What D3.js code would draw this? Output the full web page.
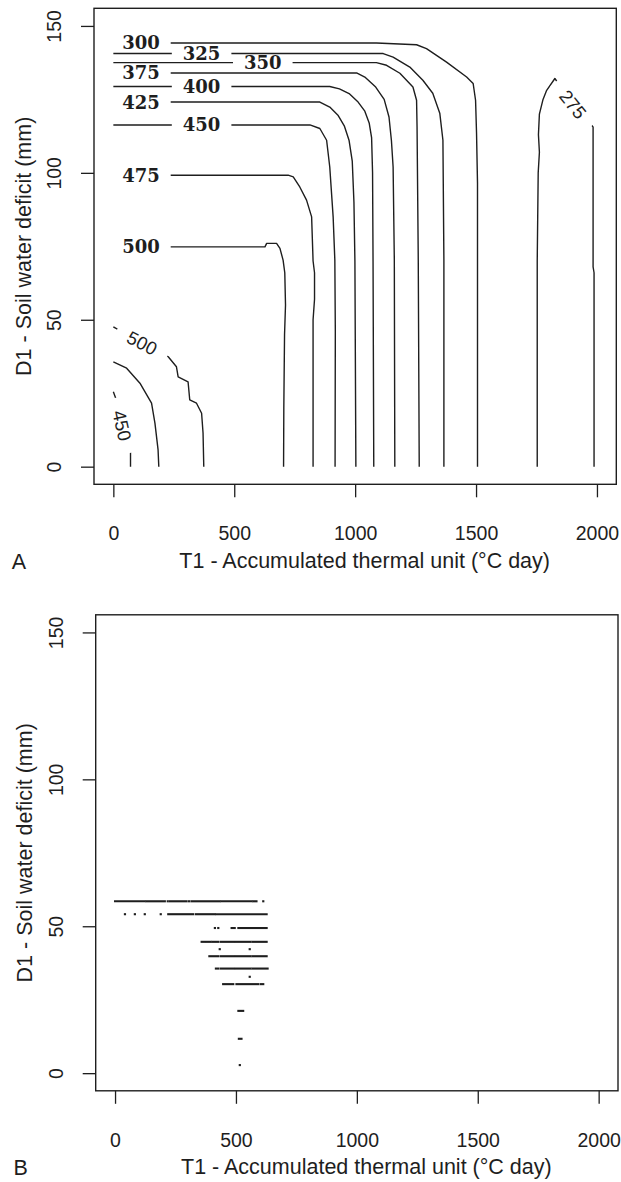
<!DOCTYPE html>
<html><head><meta charset="utf-8">
<script src="https://cdn.jsdelivr.net/npm/d3@7"></script>
<style>body{margin:0;background:#fff}svg{display:block}</style>
</head><body>
<svg id="chart" width="621" height="1182"></svg>
<script>
// ---------- axes ----------
const xTicks = [0, 500, 1000, 1500, 2000];
const yTicks = [0, 50, 100, 150];
const xDomain = [-80, 2080];
const yDomain = [-6, 156];
const xTitle = "T1 - Accumulated thermal unit (°C day)";
const yTitle = "D1 - Soil water deficit (mm)";
const panelNames = ["A", "B"];

// ---------- panel A: contour lines [T1, D1] ----------
const c300 = [[0,144.2],[114,144.2],[1088,144.2],[1254,143.6],[1295,142.3],[1378,137.7],[1461,132.6],[1488,130.4],[1498,124.7],[1502,113.5],[1506,96.5],[1506,70.3],[1506,0]];
const c325 = [[0,140.6],[365,140.6],[1116,140.6],[1157,139.4],[1226,136.0],[1280,131.5],[1321,127.1],[1350,120.3],[1363,111.1],[1367,70.3],[1367,0]];
const c350 = [[0,137.5],[618,137.5],[1088,137.5],[1130,136.6],[1185,133.9],[1239,129.2],[1254,124.7],[1256,115.6],[1261,70.3],[1265,0]];
const c375 = [[0,134.0],[114,134.0],[1006,134.0],[1040,132.6],[1085,129.2],[1120,125],[1140,119],[1150,111],[1157,102],[1162,70.3],[1164,0]];
const c400 = [[0,129.4],[365,129.4],[895,129.4],[935,128.6],[975,127],[1010,124.3],[1040,121],[1058,117],[1068,112],[1072,100],[1074,70],[1077,0]];
const c425 = [[0,124.1],[114,124.1],[854,124.1],[895,122.4],[930,119.5],[955,116],[975,111],[988,104],[995,90],[999,70],[1003,0]];
const c450 = [[0,116.3],[365,116.3],[813,116.3],[854,115.1],[882,111.1],[895,102],[909,85],[916,70.3],[918,46],[917,0]];
const c475 = [[0,99.2],[114,99.2],[723,99.2],[744,98.6],[771,95.2],[799,90.7],[820,85],[826,70],[832,66],[832,57],[826,50],[826,0]];
const c500 = [[0,74.8],[114,74.8],[627,74.8],[634,76],[675,76],[689,74.3],[702,70.3],[709,66],[712,55],[708,45],[705,20],[704,0]];
const c500low = [[0,47.6],[48,45.4],[119,42.1],[192,39.3],[227,37.4],[261,34],[268,30.6],[309,28.9],[316,22.7],[344,21.6],[365,18.2],[371,11.4],[374,0]];
const c475low = [[0,35.7],[55,33.5],[110,28.4],[158,21.6],[172,14.8],[185,5.7],[188,0]];
const c450low = [[0,25.5],[20,21],[36,14],[55,8],[71,5],[71,0]];
const c275 = [[1753,0],[1753,70],[1757,100],[1762,107],[1758,113],[1762,120],[1777,125],[1792,128.1],[1826,132.1],[1901,123.3],[1971,117.3],[1984,115.6],[1984,68],[1988,66],[1988,0]];

const contourLines = [c300,c325,c350,c375,c400,c425,c450,c475,c500,c500low,c475low,c450low,c275];
// labels: [text, contour index, vertex index]
const boldLabels = [["300",0,1],["325",1,1],["350",2,1],["375",3,1],["400",4,1],["425",5,1],["450",6,1],["475",7,1],["500",8,1]];
const plainLabels = [["500",9,2],["450",11,2],["275",12,9]];

// ---------- panel B: rows of points ----------
const bRowD = [58.5,54.1,49.4,44.7,42.2,39.8,35.6,32.8,30.3,21.2,11.7,2.75];
const bRowSegs = [
  [[0,123],[130,206],[227,296],[316,433],[440,565],[572,585]],
  [[220,323],[334,413],[420,627]],
  [[482,495],[510,627]],
  [[358,372],[380,395],[402,428],[438,492],[500,560],[568,627]],
  [],
  [[390,428],[438,492],[500,560],[568,627]],
  [[417,428],[438,492],[500,560],[568,631]],
  [],
  [[447,489],[502,592],[602,613]],
  [[510,530]],
  [[512,523]],
  []
];
const bRowDots = [
  [218,306,613],
  [41,82,123,189],
  [413,427],
  [],
  [433,557],
  [],
  [],
  [557],
  [],
  [],
  [],
  [516]
];

// ---------- layout ----------
const svg = d3.select("#chart");
const PW = 522.3, PH = 476;
const panels = [{x:94, y:8.3}, {x:95.7, y:614.8}];
const ink = "#1e1e1e";
const sans = "'Liberation Sans', Arial, sans-serif";
const FS = 19.5, FT = 21.5;

const x = d3.scaleLinear().domain(xDomain).range([0, PW]);
const y = d3.scaleLinear().domain(yDomain).range([PH, 0]);

function frame(g, name) {
  g.append("rect").attr("width", PW).attr("height", PH)
    .attr("fill", "none").attr("stroke", ink).attr("stroke-width", 1.4);
  const xa = g.append("g").attr("transform", `translate(0,${PH})`)
    .call(d3.axisBottom(x).tickValues(xTicks).tickSize(13).tickFormat(d3.format("d")));
  const ya = g.append("g")
    .call(d3.axisLeft(y).tickValues(yTicks).tickSize(13).tickFormat(d3.format("d")));
  [xa, ya].forEach(a => {
    a.select(".domain").remove();
    a.selectAll(".tick line").attr("stroke", ink).attr("stroke-width", 1.3);
    a.selectAll("text").attr("fill", ink).style("font-family", sans).style("font-size", FS + "px");
  });
  xa.selectAll("text").attr("y", 49).attr("dy", "0.35em");
  ya.selectAll("text").attr("x", null).attr("dy", "0.35em")
    .attr("text-anchor", "middle").attr("transform", "translate(-40,0) rotate(-90)");
  g.append("text").attr("x", PW / 2 + 9.5).attr("y", PH + 76).attr("dy", "0.35em")
    .attr("text-anchor", "middle").attr("fill", ink)
    .style("font-family", sans).style("font-size", FT + "px").text(xTitle);
  g.append("text").attr("transform", `translate(-71,${PH / 2}) rotate(-90)`).attr("dy", "0.35em")
    .attr("text-anchor", "middle").attr("fill", ink)
    .style("font-family", sans).style("font-size", FT + "px").text(yTitle);
  g.append("text").attr("x", -75).attr("y", PH + 77).attr("dy", "0.35em")
    .attr("text-anchor", "middle").attr("fill", ink)
    .style("font-family", sans).style("font-size", FT + "px").text(name);
}

// ----- Panel A -----
const gA = svg.append("g").attr("transform", `translate(${panels[0].x},${panels[0].y})`);
gA.append("clipPath").attr("id", "clipA").append("rect").attr("width", PW).attr("height", PH);
const cg = gA.append("g").attr("clip-path", "url(#clipA)");
const line = d3.line().x(d => x(d[0])).y(d => y(d[1]));
cg.selectAll("path.contour").data(contourLines).join("path")
  .attr("class", "contour").attr("d", line)
  .attr("fill", "none").attr("stroke", ink).attr("stroke-width", 1.4)
  .attr("stroke-linejoin", "round");

function placeLabel(lbl, font, size, weight, pad, h) {
  const [txt, ci, vi] = lbl;
  const pts = contourLines[ci];
  const p = pts[vi], a = pts[vi - 1], b = pts[vi + 1];
  const ang = Math.atan2(y(b[1]) - y(a[1]), x(b[0]) - x(a[0])) * 180 / Math.PI;
  const g = cg.append("g").attr("transform", `translate(${x(p[0])},${y(p[1])}) rotate(${ang})`);
  const r = g.append("rect").attr("fill", "#fff");
  const t = g.append("text").attr("text-anchor", "middle").attr("dy", "0.36em").attr("fill", ink)
    .style("font-family", font).style("font-size", size + "px").style("font-weight", weight).text(txt);
  const w = t.node().getComputedTextLength() + 2 * pad;
  r.attr("x", -w / 2).attr("y", -h / 2).attr("width", w).attr("height", h);
}
boldLabels.forEach(l => placeLabel(l, "'DejaVu Serif', serif", 18, "bold", 11, 12.5));
plainLabels.forEach(l => placeLabel(l, sans, 18.5, "normal", 13, 12.5));
frame(gA, panelNames[0]);

// ----- Panel B -----
const gB = svg.append("g").attr("transform", `translate(${panels[1].x},${panels[1].y})`);
const rowsB = bRowD.map((d, i) => ({d, segs: bRowSegs[i], dots: bRowDots[i]}));
const rg = gB.selectAll("g.row").data(rowsB).join("g").attr("class", "row");
rg.selectAll("line").data(r => r.segs.map(s => ({s, d: r.d}))).join("line")
  .attr("x1", o => x(o.s[0])).attr("x2", o => x(o.s[1]))
  .attr("y1", o => y(o.d)).attr("y2", o => y(o.d))
  .attr("stroke", ink).attr("stroke-width", 2.1).attr("stroke-linecap", "square");
rg.selectAll("rect").data(r => r.dots.map(t => ({t, d: r.d}))).join("rect")
  .attr("x", o => x(o.t) - 1.1).attr("y", o => y(o.d) - 1.05)
  .attr("width", 2.2).attr("height", 2.1).attr("fill", ink);
frame(gB, panelNames[1]);
</script>
</body></html>
